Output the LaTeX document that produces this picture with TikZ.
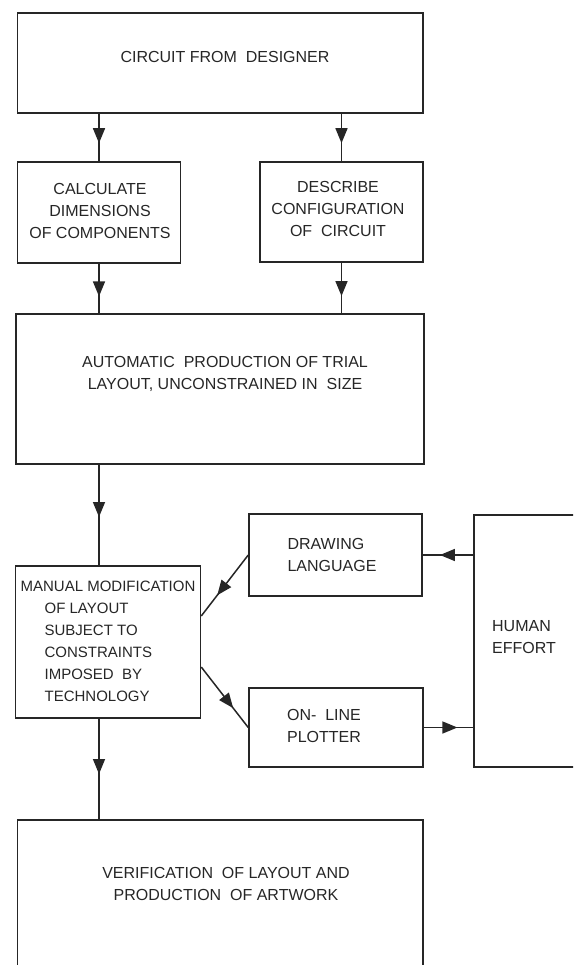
\documentclass[tikz,border=0pt]{standalone}
\usepackage{fontspec}
\setmainfont{Liberation Sans}
\usetikzlibrary{arrows.meta,decorations.markings}

\begin{document}
\begin{tikzpicture}[x=1pt,y=1pt]
                          \tikzstyle{every node}+=[inner sep=0pt]
                          \tikzstyle{box}=[draw=black!85, line width=1.5pt, rectangle]
                          \tikzstyle{txt}=[text=black!85, align=center, font=\fontsize{16}{22}\selectfont]
                          \tikzstyle{flow}=[draw=black!85, line width=1.5pt, postaction={decorate},
                            decoration={markings, mark=at position #1 with {\arrow{Triangle[length=15pt,width=12pt]}}}]
                          \clip (0,0) rectangle (573,-965);
                          % boxes
                          \node [box, minimum width=405.5, minimum height=100] (designer) at (220,-63) {};
                          \node [box, minimum width=163, minimum height=101] (calc) at (99,-212.5) {};
                          \node [box, minimum width=163, minimum height=100] (describe) at (341.5,-212) {};
                          \node [box, minimum width=408, minimum height=150] (auto) at (220,-389) {};
                          \node [box, minimum width=185, minimum height=152] (manual) at (108,-642) {};
                          \node [box, minimum width=173, minimum height=82] (drawing) at (335.5,-555) {};
                          \node [box, minimum width=174, minimum height=79] (plotter) at (336,-727.5) {};
                          \node [box, minimum width=136, minimum height=252] (human) at (542,-641) {};
                          \node [box, minimum width=405.5, minimum height=190] (verif) at (220,-915) {};
                          % texts
                          \node [txt] (designer-t) at (225,-57) {CIRCUIT FROM\ \ DESIGNER};
                          \node [txt] (calc-t) at (100,-211) {CALCULATE\\DIMENSIONS\\OF COMPONENTS};
                          \node [txt] (describe-t) at (338,-209) {DESCRIBE\\CONFIGURATION\\OF\ \ CIRCUIT};
                          \node [txt] (auto-t) at (225,-374) {AUTOMATIC\ \ PRODUCTION OF TRIAL\\LAYOUT, UNCONSTRAINED IN\ \ SIZE};
                          \node [txt, align=left, font=\fontsize{15}{22}\selectfont] (manual-t) at (108,-641)
                            {MANUAL MODIFICATION\\\hspace*{24pt}OF LAYOUT\\\hspace*{24pt}SUBJECT TO\\\hspace*{24pt}CONSTRAINTS\\\hspace*{24pt}IMPOSED\ \ BY\\\hspace*{24pt}TECHNOLOGY};
                          \node [txt, align=left] (drawing-t) at (332,-555) {DRAWING\\LANGUAGE};
                          \node [txt] (plotter-t) at (324,-726) {ON- \ LINE\\PLOTTER};
                          \node [txt, align=left] (human-t) at (524,-637) {HUMAN\\EFFORT};
                          \node [txt] (verif-t) at (226,-884) {VERIFICATION\ \ OF LAYOUT AND\\PRODUCTION\ \ OF ARTWORK};
                          % connectors
                          \draw [flow=0.62] (calc.north |- designer.south) -- (calc.north);
                          \draw [flow=0.62] (describe.north |- designer.south) -- (describe.north);
                          \draw [flow=0.66] (calc.south) -- (calc.south |- auto.north);
                          \draw [flow=0.66] (describe.south) -- (describe.south |- auto.north);
                          \draw [flow=0.52] (calc.south |- auto.south) -- (calc.south |- manual.north);
                          \draw [flow=0.55] (calc.south |- manual.south) -- (calc.south |- verif.north);
                          \draw [flow=0.66] (drawing.west) -- ([yshift=26pt]manual.east);
                          \draw [flow=0.68] ([yshift=-25pt]manual.east) -- (plotter.west);
                          \draw [flow=0.66] (drawing.east -| human.west) -- (drawing.east);
                          \draw [flow=0.68] (plotter.east) -- (plotter.east -| human.west);
                      \end{tikzpicture}
\end{document}
